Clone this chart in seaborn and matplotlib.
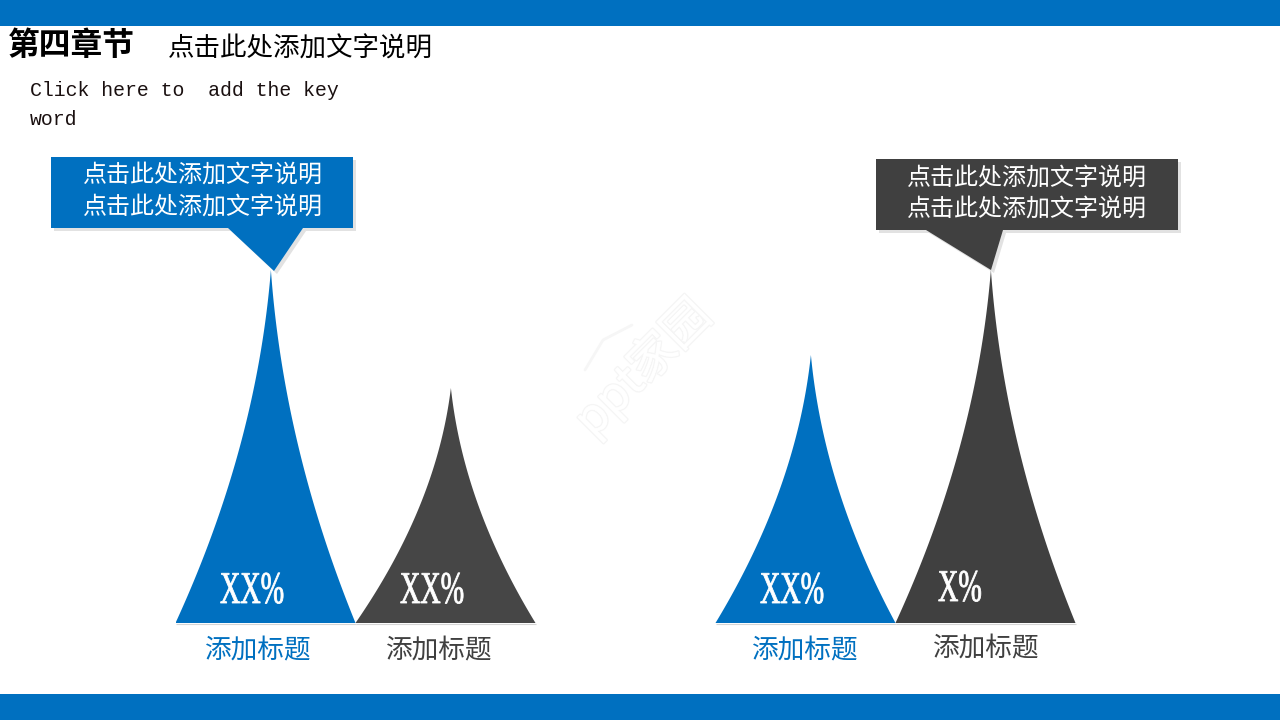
import matplotlib
matplotlib.use("Agg")
import matplotlib.pyplot as plt
import matplotlib.patheffects as pe
from matplotlib.patches import Polygon, Rectangle
from matplotlib.transforms import Affine2D
import numpy as np
import seaborn as sns

# donnees
slots = ["A1", "A2", "gap", "B1", "B2"]
heights = [353, 235, 0, 268, 353]
value_labels = ["XX%", "XX%", "XX%", "X%"]
title = "第四章节"
subtitle = "点击此处添加文字说明"
keyword = "Click here to  add the key\nword"
callout_text = "点击此处添加文字说明\n点击此处添加文字说明"
bar_title = "添加标题"

BLUE = "#0070C0"
DARK = "#404040"
DARK2 = "#464646"
SHADOW = "#E2E2E2"


class Condense(pe.AbstractPathEffect):
    # le texte de l'original est tres etroit : on le resserre en largeur, trait un peu epaissi
    def __init__(self, sx, lw):
        super().__init__()
        self.sx = sx
        self.lw = lw

    def draw_path(self, renderer, gc, tpath, affine, rgbFace=None):
        gc0 = renderer.new_gc()
        gc0.copy_properties(gc)
        gc0.set_foreground(rgbFace)
        gc0.set_linewidth(self.lw)
        renderer.draw_path(gc0, tpath, Affine2D().scale(self.sx, 1) + affine, rgbFace)
        gc0.restore()


sns.set_theme(style="white")
plt.rcParams["font.family"] = ["Noto Sans CJK SC", "DejaVu Sans"]

fig = plt.figure(figsize=(12.8, 7.2), dpi=100, facecolor="white")

# axe principal : la base des pics est a y=623 px, de x=175 a x=1075
ax = fig.add_axes([175.5 / 1280, 97 / 720, 900 / 1280, 623 / 720])
palette = dict(zip(slots, [BLUE, DARK2, BLUE, BLUE, DARK]))
sns.barplot(x=slots, y=heights, hue=slots, palette=palette, width=1,
            saturation=1, legend=False, ax=ax)
ax.set_xlim(-0.5, 4.5)
ax.set_ylim(0, 623)
ax.set_axis_off()

# on remplace chaque barre par un pic aux bords courbes
s = np.linspace(0, 1, 80)
flare = 0.3 * s + 0.7 * s ** 2
for bar in list(ax.patches):
    h = bar.get_height()
    x0 = bar.get_x()
    w = bar.get_width()
    color = bar.get_facecolor()
    bar.set_visible(False)
    if h == 0:
        continue
    peak = x0 + w * 0.53
    xs = np.concatenate([peak - (peak - x0) * flare[::-1], peak + (x0 + w - peak) * flare[1:]])
    ys = np.concatenate([h * (1 - s[::-1]), h * (1 - s[1:])])
    ax.fill(xs, ys, color=color, lw=0)
    ax.hlines(-1, x0, x0 + w, color="#D5D5D5", lw=0.8, clip_on=False)

# calque en pixels pour le decor et les textes
ov = fig.add_axes([0, 0, 1, 1], facecolor="none")
ov.set_xlim(0, 1280)
ov.set_ylim(720, 0)
ov.set_axis_off()

ov.add_patch(Rectangle((0, 0), 1280, 26, color=BLUE, lw=0))
ov.add_patch(Rectangle((0, 694), 1280, 26, color=BLUE, lw=0))

callouts = [
    ([(51, 157), (353, 157), (353, 228), (303, 228), (274, 271), (228, 228), (51, 228)], BLUE),
    ([(876, 159), (1178, 159), (1178, 230), (1003, 230), (991, 270), (926, 230), (876, 230)], DARK),
]
for pts, color in callouts:
    ov.add_patch(Polygon([(x + 3, y + 3) for x, y in pts], color=SHADOW, lw=0))
    ov.add_patch(Polygon(pts, color=color, lw=0))

ov.text(8, 46, title, fontsize=22.9, fontweight="bold", color="black", va="center")
ov.text(168, 49, subtitle, fontsize=19.1, color="black", va="center")
ov.text(30, 105, keyword, fontsize=14.3, family=["Liberation Mono", "DejaVu Sans"],
        color="#1A1010", va="center", linespacing=1.7)

ov.text(203, 191, callout_text, fontsize=17.3, color="white", ha="center", va="center", linespacing=1.3)
ov.text(1027, 193, callout_text, fontsize=17.3, color="white", ha="center", va="center", linespacing=1.25)

for x, y, label in zip([220, 400, 760, 938], [603, 603, 603, 601], value_labels):
    ov.text(x, y, label, fontsize=32.7, family=["Liberation Serif", "DejaVu Serif"], color="white",
            ha="left", va="baseline", path_effects=[Condense(0.62, 0.6)])

for x, y, color in zip([258.5, 439, 805.5, 986.5], [651, 651, 651, 649], [BLUE, DARK, BLUE, DARK]):
    ov.text(x, y, bar_title, fontsize=19.2, color=color, ha="center", va="center")

# filigrane tres pale au centre
ov.text(643, 368, "ppt家园", fontsize=34, rotation=45, color="white", ha="center", va="center",
        path_effects=[pe.withStroke(linewidth=2, foreground="#F5F5F5"), pe.Normal()])
ov.plot([585, 603, 632], [370, 340, 325], color="#F6F6F6", lw=2)

fig.savefig("out.png", dpi=100)
